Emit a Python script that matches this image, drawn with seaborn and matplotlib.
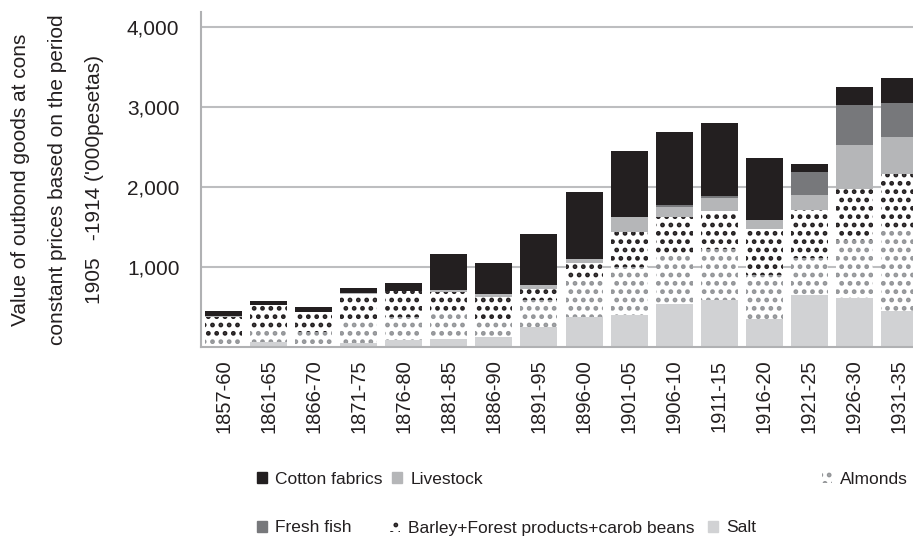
import matplotlib
matplotlib.use("Agg")
import matplotlib.pyplot as plt
from matplotlib.patches import Patch
import seaborn as sns
import numpy as np
import pandas as pd

categories = ['1857-60', '1861-65', '1866-70', '1871-75', '1876-80', '1881-85',
              '1886-90', '1891-95', '1896-00', '1901-05', '1906-10', '1911-15',
              '1916-20', '1921-25', '1926-30', '1931-35']
salt = [8, 64, 15, 54, 88, 100, 129, 252, 379, 404, 533, 588, 356, 646, 613, 454]
almonds = [121, 176, 177, 263, 291, 342, 201, 338, 479, 592, 617, 633, 544, 462, 725, 1017]
barley = [250, 280, 240, 341, 321, 242, 299, 139, 188, 438, 479, 483, 577, 605, 637, 696]
livestock = [13, 9, 8, 13, 6, 29, 35, 46, 56, 187, 121, 161, 107, 183, 550, 458]
fresh_fish = [0, 0, 0, 0, 0, 0, 0, 0, 0, 0, 21, 23, 0, 292, 500, 425]
cotton = [56, 48, 57, 66, 90, 445, 391, 637, 838, 831, 921, 916, 782, 104, 229, 316]

y_ticks = [1000, 2000, 3000, 4000]
y_label = "Value of outbond goods at cons\nconstant prices based on the period\n1905   -1914 ('000pesetas)"

# series in stacking order (bottom -> top)
series = [
    ("Salt", salt, dict(color="#D1D2D4")),
    ("Almonds", almonds, dict(color="white", hatch="..", edgecolor="#939598")),
    ("Barley+Forest products+carob beans", barley, dict(color="white", hatch="..", edgecolor="#231F20")),
    ("Livestock", livestock, dict(color="#B5B6B8")),
    ("Fresh fish", fresh_fish, dict(color="#77787B")),
    ("Cotton fabrics", cotton, dict(color="#231F20")),
]

sns.set_style("white")
plt.rcParams['font.family'] = ['Liberation Sans', 'DejaVu Sans']
plt.rcParams['hatch.linewidth'] = 2.2

W, H = 913, 545
fig = plt.figure(figsize=(W / 100, H / 100), dpi=100)
ax_left, ax_right, ax_top, ax_bottom = 201, 922, 12, 347
ax = fig.add_axes([ax_left / W, 1 - ax_bottom / H, (ax_right - ax_left) / W, (ax_bottom - ax_top) / H])

# cumulative tops, draw from the top layer down (overlapping bars)
cum = np.zeros(len(categories))
tops = []
for name, vals, style in series:
    cum = cum + np.array(vals, dtype=float)
    tops.append((name, cum.copy(), style))

for name, top, style in reversed(tops):
    df = pd.DataFrame({"cat": categories, "val": top})
    kw = dict(style)
    color = kw.pop("color")
    sns.barplot(data=df, x="cat", y="val", color=color, saturation=1, width=0.82,
                linewidth=0, ax=ax, **kw)

ax.set_ylim(0, 4190)
ax.set_xlim(-0.5, len(categories) - 0.5)
ax.set_yticks(y_ticks)
ax.set_yticklabels([f"{v:,}" for v in y_ticks])
ax.yaxis.grid(True, color="#BDBEC0", linewidth=1.5)
ax.set_axisbelow(True)
ax.set_xlabel("")
ax.set_ylabel(y_label, fontsize=15, linespacing=2.2, multialignment="center",
              labelpad=16.5, color="#231F20")

for s in ["top", "right"]:
    ax.spines[s].set_visible(False)
for s in ["left", "bottom"]:
    ax.spines[s].set_color("#B0B1B3")
    ax.spines[s].set_linewidth(1.5)

ax.set_xticks(range(len(categories)))
ax.set_xticklabels(categories, rotation=90, fontsize=14.5, color="#231F20")
ax.set_xticks(np.arange(len(categories) + 1) - 0.5, minor=True)
ax.tick_params(axis="x", which="major", length=0, pad=9)
ax.tick_params(axis="x", which="minor", length=5, width=1.2, color="#B0B1B3", direction="out")
ax.tick_params(axis="y", which="major", length=4, width=1.2, color="#B0B1B3", direction="out",
               labelsize=15, labelcolor="#231F20", pad=11.5)

# legend entries (placed individually like the original)
legend_items = [
    ("Cotton fabrics", dict(facecolor="#231F20", edgecolor="#231F20"), 257, 479),
    ("Livestock", dict(facecolor="#B5B6B8", edgecolor="#B5B6B8"), 392, 479),
    ("Almonds", dict(facecolor="white", hatch="..", edgecolor="#939598", linewidth=0), 822, 479),
    ("Fresh fish", dict(facecolor="#77787B", edgecolor="#77787B"), 257, 528),
    ("Barley+Forest products+carob beans", dict(facecolor="white", hatch="..", edgecolor="#231F20", linewidth=0), 390, 528),
    ("Salt", dict(facecolor="#D1D2D4", edgecolor="#D1D2D4"), 708, 528),
]
for label, pk, x, y in legend_items:
    h = Patch(**pk)
    fig.legend(handles=[h], labels=[label], loc="center left",
               bbox_to_anchor=(x / W, 1 - y / H), frameon=False, fontsize=12.5,
               handlelength=0.6, handleheight=0.6, handletextpad=0.45,
               borderpad=0, borderaxespad=0, labelcolor="#231F20")

fig.savefig("out.png", dpi=100)
